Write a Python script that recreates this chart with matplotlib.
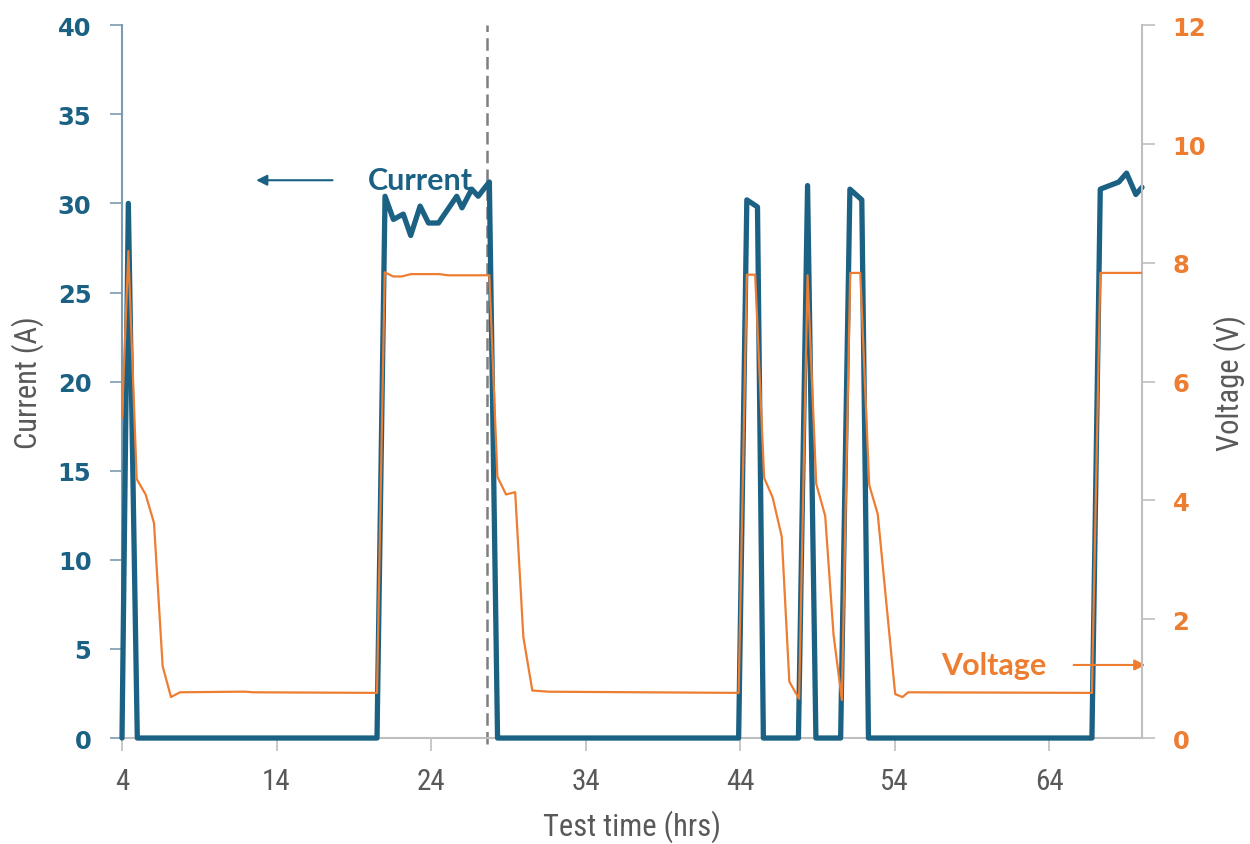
# -*- coding: utf-8 -*-
import matplotlib
matplotlib.use('agg')
import matplotlib.pyplot as plt

# current trace (A) vs test time (hrs)
time_current = [4.0, 4.41, 4.99, 20.5, 21.02, 21.56, 22.2, 22.68, 23.29, 23.83, 24.48,
                25.66, 26.0, 26.63, 27.05, 27.4, 27.77, 28.3, 43.9, 44.43, 45.12, 45.5,
                47.77, 48.36, 48.9, 50.5, 51.1, 51.87, 52.3, 66.76, 67.3, 68.5, 69.0,
                69.6, 70.0]
current = [0, 30.0, 0, 0, 30.4, 29.1, 29.4, 28.2, 29.85, 28.9, 28.9,
           30.4, 29.75, 30.8, 30.4, 30.8, 31.2, 0, 0, 30.2, 29.8, 0,
           0, 31.0, 0, 0, 30.8, 30.2, 0, 0, 30.8, 31.2, 31.7,
           30.5, 30.9]

# voltage trace (V) vs test time (hrs)
time_voltage = [4.0, 4.41, 4.95, 5.53, 6.07, 6.63, 7.17, 7.75, 11.5, 12.0, 12.5, 20.5,
                21.0, 21.55, 22.1, 22.7, 24.5, 25.1, 27.77, 28.29, 28.85, 29.44, 29.97,
                30.55, 31.6, 43.9, 44.43, 44.97, 45.55, 46.1, 46.69, 47.18, 47.81,
                48.36, 48.92, 49.5, 50.04, 50.58, 51.12, 51.77, 52.35, 52.9, 54.03,
                54.5, 54.87, 66.76, 67.3, 70.0]
voltage = [5.4, 8.2, 4.36, 4.1, 3.62, 1.21, 0.69, 0.77, 0.78, 0.78, 0.77, 0.76,
           7.84, 7.77, 7.77, 7.81, 7.81, 7.79, 7.79, 4.4, 4.1, 4.14, 1.7,
           0.8, 0.78, 0.76, 7.8, 7.8, 4.38, 4.05, 3.39, 0.95, 0.66,
           7.79, 4.28, 3.74, 1.74, 0.64, 7.83, 7.83, 4.26, 3.77, 0.74,
           0.69, 0.77, 0.76, 7.83, 7.83]

x_ticks = [4, 14, 24, 34, 44, 54, 64]
current_ticks = [0, 5, 10, 15, 20, 25, 30, 35, 40]
voltage_ticks = [0, 2, 4, 6, 8, 10, 12]
marker_time = 27.6

BLUE = '#1B6184'
ORANGE = '#ED7D31'
GRAY = '#BFBFBF'
TEXT_GRAY = '#595959'
NARROW = ['Roboto Condensed', 'Roboto', 'DejaVu Sans']
BOLD_LABEL = ['Lato', 'DejaVu Sans']

fig = plt.figure(figsize=(12.5, 8.45), dpi=100)
ax = fig.add_axes([0.0976, 0.1254, 0.816, 0.8436])
ax2 = ax.twinx()

ax.plot(time_current, current, c=BLUE, lw=3.8, solid_joinstyle='round',
        solid_capstyle='round', clip_on=False, zorder=3)
ax2.plot(time_voltage, voltage, c=ORANGE, lw=1.6, zorder=3)

ax.set_xlim(4, 70)
ax.set_ylim(0, 40)
ax2.set_ylim(0, 12)
ax.set_xticks(x_ticks)
ax.set_yticks(current_ticks)
ax2.set_yticks(voltage_ticks)

# dashed marker
ax.axvline(marker_time, ymin=-0.008, ymax=1, c='#7F7F7F', lw=1.8,
           ls=(0, (5, 2.5)), clip_on=False, zorder=2)

for a in (ax, ax2):
    a.spines['top'].set_visible(False)
ax.spines['left'].set_color('#7A9BB0')
ax.spines['bottom'].set_color(GRAY)
ax.spines['right'].set_visible(False)
ax2.spines['left'].set_visible(False)
ax2.spines['bottom'].set_visible(False)
ax2.spines['right'].set_color(GRAY)
for s in ('left', 'bottom'):
    ax.spines[s].set_linewidth(1.5)
ax2.spines['right'].set_linewidth(1.5)

ax.tick_params(axis='y', direction='out', length=9, width=1.2, color='#7A9BB0',
               pad=13, labelcolor=BLUE)
ax.tick_params(axis='x', direction='out', length=9, width=1.2, color=GRAY,
               pad=12, labelcolor=TEXT_GRAY)
ax2.tick_params(axis='y', direction='out', length=9, width=1.2, color=GRAY,
                pad=13, labelcolor=ORANGE)

for lbl in ax.get_yticklabels() + ax2.get_yticklabels():
    lbl.set_fontsize(17.5)
    lbl.set_fontweight('bold')
for lbl in ax.get_xticklabels():
    lbl.set_family(NARROW)
    lbl.set_fontsize(21)

ax.set_xlabel('Test time (hrs)', family=NARROW, fontsize=22, color=TEXT_GRAY, labelpad=10)
ax.set_ylabel('Current (A)', family=NARROW, fontsize=22, color=TEXT_GRAY, labelpad=10)
ax2.set_ylabel('Voltage (V)', family=NARROW, fontsize=22, color=TEXT_GRAY, labelpad=5)

# series annotations
ax.text(23.3, 31.3, 'Current', family=BOLD_LABEL, fontsize=22,
        fontweight='bold', color=BLUE, ha='center', va='center')
ax.annotate('', xy=(12.5, 31.3), xytext=(17.8, 31.3),
            arrowprops=dict(arrowstyle='-|>', color=BLUE, lw=1.5, mutation_scale=16))
ax.text(60.4, 4.1, 'Voltage', family=BOLD_LABEL, fontsize=22,
        fontweight='bold', color=ORANGE, ha='center', va='center')
ax.annotate('', xy=(70.4, 4.1), xytext=(65.4, 4.1),
            arrowprops=dict(arrowstyle='-|>', color=ORANGE, lw=1.5, mutation_scale=16),
            annotation_clip=False)

plt.savefig('out.png', dpi=100)
